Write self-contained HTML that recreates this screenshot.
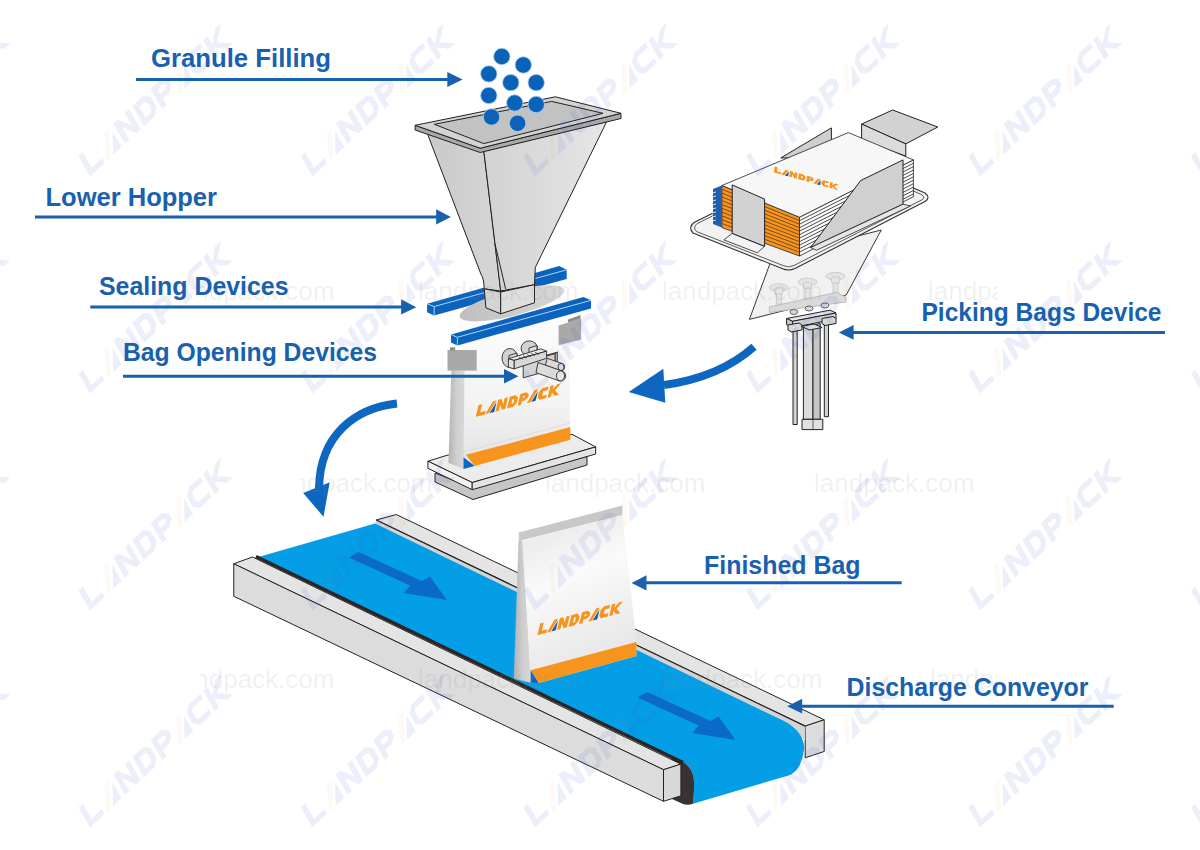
<!DOCTYPE html>
<html><head><meta charset="utf-8">
<style>
html,body{margin:0;padding:0;background:#fff;width:1200px;height:850px;overflow:hidden}
svg{display:block}
.lbl{font-family:"Liberation Sans",sans-serif;font-weight:bold;font-size:25px;fill:#1761b0}
.ln{stroke:#1761b0;stroke-width:3;fill:none}
.ah{fill:#1761b0}
.o{stroke:#222;stroke-width:1;stroke-linejoin:round}
.logo{font-family:"Liberation Sans",sans-serif;font-weight:bold;font-style:italic;fill:#f7941d}
</style></head>
<body>
<svg width="1200" height="850" viewBox="0 0 1200 850">
<defs>
  <g id="lp">
   <g transform="skewX(-28) translate(0,-12)">
    <g fill="#f7941d">
     <polygon points="0,0 4.2,0 4.2,8.3 10.5,8.3 10.5,12 0,12"/>
     <polygon points="11,12 15.2,12 21.2,0 17,0"/>
     <polygon points="23,12 23,0 27,0 30.5,6 30.5,0 34.5,0 34.5,12 30.5,12 27,6 27,12"/>
     <path fill-rule="evenodd" d="M36.5,0 L43.5,0 L47,3.3 L47,8.7 L43.5,12 L36.5,12 Z M40.5,3.6 L42.5,3.6 L43,4.1 L43,7.9 L42.5,8.4 L40.5,8.4 Z"/>
     <path fill-rule="evenodd" d="M49,0 L56,0 L59.5,2.8 L59.5,6 L56,8.4 L53,8.4 L53,12 L49,12 Z M53,3.4 L55,3.4 L55.5,3.9 L55.5,4.6 L55,5.1 L53,5.1 Z"/>
     <polygon points="59.5,12 63.7,12 69.7,0 65.5,0"/>
     <polygon points="74.5,0 82,0 82,3.6 76.5,3.6 76.5,8.4 82,8.4 82,12 74.5,12 71.5,9 71.5,3"/>
     <polygon points="84,0 88,0 88,4.3 92,0 97,0 91,6 97,12 92,12 88,7.7 88,12 84,12"/>
    </g>
    <g fill="#1a5aa8">
     <polygon points="16.2,12 21.5,1.8 21.5,12"/>
     <polygon points="64.7,12 70,1.8 70,12"/>
    </g>
   </g>
  </g>
  <linearGradient id="gHopL" x1="0" y1="0" x2="1" y2="0">
    <stop offset="0" stop-color="#c9c9c9"/><stop offset="1" stop-color="#d6d6d6"/>
  </linearGradient>
  <linearGradient id="gHopR" x1="0" y1="0" x2="1" y2="0">
    <stop offset="0" stop-color="#d2d2d2"/><stop offset="1" stop-color="#e6e6e6"/>
  </linearGradient>
  <linearGradient id="gBag" x1="0" y1="0" x2="0" y2="1">
    <stop offset="0" stop-color="#ffffff"/><stop offset="0.6" stop-color="#f4f4f4"/><stop offset="1" stop-color="#e2e2e2"/>
  </linearGradient>
  <linearGradient id="gBag2" x1="0" y1="0" x2="0.3" y2="1">
    <stop offset="0" stop-color="#e4e4e4"/><stop offset="0.45" stop-color="#fafafa"/><stop offset="1" stop-color="#e6e6e6"/>
  </linearGradient>
  <linearGradient id="gGus" x1="0" y1="0" x2="1" y2="0">
    <stop offset="0" stop-color="#b4b4b4"/><stop offset="0.5" stop-color="#cfcfcf"/><stop offset="1" stop-color="#d8d8d8"/>
  </linearGradient>
  <linearGradient id="gEll" x1="0" y1="0" x2="1" y2="0">
    <stop offset="0" stop-color="#bfbfbf"/><stop offset="1" stop-color="#d8d8d8"/>
  </linearGradient>
  <g id="wm">
   <g transform="skewX(-12) translate(0,-12)">
    <g fill="#3a50c8" fill-opacity="0.095">
     <polygon points="0,0 2.8,0 2.8,9.2 9.5,9.2 9.5,12 0,12"/>
     <polygon points="15.2,12 20.8,2.5 20.8,12"/>
     <polygon points="23,12 23,0 25.8,0 30.5,7.5 30.5,0 33.3,0 33.3,12 30.5,12 25.8,4.5 25.8,12"/>
     <path fill-rule="evenodd" d="M35.5,0 L42.5,0 L45.5,3 L45.5,9 L42.5,12 L35.5,12 Z M38.3,2.8 L41.5,2.8 L42.7,4 L42.7,8 L41.5,9.2 L38.3,9.2 Z"/>
     <path fill-rule="evenodd" d="M47.5,0 L54.5,0 L57.5,2.5 L57.5,5.8 L54.5,8.2 L50.3,8.2 L50.3,12 L47.5,12 Z M50.3,2.8 L53.5,2.8 L54.7,3.6 L54.7,4.6 L53.5,5.4 L50.3,5.4 Z"/>
     <polygon points="62.2,12 67.8,2.5 67.8,12"/>
     <polygon points="72.5,0 80,0 80,2.8 73.5,2.8 72.3,4 72.3,8 73.5,9.2 80,9.2 80,12 72.5,12 69.5,9 69.5,3"/>
     <polygon points="82,0 84.8,0 84.8,5 90,0 93.8,0 87.5,6 93.8,12 90,12 84.8,7 84.8,12 82,12"/>
    </g>
    <g fill="#f08020" fill-opacity="0.05">
     <polygon points="11,12 13.8,12 19.8,0 17,0"/>
     <polygon points="58,12 60.8,12 66.8,0 64,0"/>
    </g>
   </g>
  </g>
  <clipPath id="cpA"><rect x="200" y="0" width="798" height="850"/></clipPath>
  <clipPath id="cpB"><rect x="300" y="0" width="700" height="850"/></clipPath>
</defs>



<!-- ===== CURVED ARROWS ===== -->
<g fill="none" stroke="#0d67c0" stroke-width="8">
  <path d="M754,346.7 C730,368 700,380 664,385"/>
  <path d="M397,403.4 C355,408 320,435 319,488"/>
</g>
<g fill="#0d67c0">
  <polygon points="663.3,368.7 665.3,402.7 628.7,392"/>
  <polygon points="303.2,493 329.7,482.3 323.5,516.8"/>
</g>

<!-- ===== CONVEYOR ===== -->
<g id="conveyor">
  <!-- back rail -->
  <polygon class="o" fill="#e4e4e4" points="376.25,520 396.25,514.5 824.2,719.8 805.2,726.1"/>
  <polygon class="o" fill="#dcdcdc" points="805.2,726.1 824.2,719.8 824.2,751.5 805.2,757.8"/>
  <polygon fill="#d4d4d4" points="376.25,520 805.2,726.1 805.2,740 376.25,534"/>
  <!-- belt -->
  <path fill="#039ee6" d="M259.25,556.75 L375,523.5 L783,720.6 C800,729 806,742 803.6,752 C801,766 797,771 790,775 L693,803.7 C694,795 694.5,783 693.5,776 C691,769 688,765 684,762.5 Z"/>
  <path fill="#3a3232" d="M684,762.5 C688,765 691,769 693.5,776 C694.5,783 694,795 693,803.7 C690,805 686,805 683,804 L672,799 L672,757 Z"/>
  
  <path stroke="#222" stroke-width="1.2" fill="none" d="M376.25,520 L805.2,726.1"/>
  <!-- belt arrows -->
  <polygon fill="#0b6ac8" points="358.5,552 422,581 430,576.5 447,600 404,593 410,585.4 349,557.5"/>
  <polygon fill="#0b6ac8" points="647,692 710.5,721 718.5,716.5 735.5,740 692.5,733 698.5,725.4 637.5,697.5"/>
  <!-- front rail -->
  <polygon class="o" fill="#e4e4e4" points="233.75,563.75 252.5,557 680.9,764.1 663.5,769.7"/>
  <polygon class="o" fill="#e2e2e2" points="233.75,563.75 663.5,769.7 663.5,801.3 233.75,596.25" style="fill:#dcdcdc"/>
  <polygon class="o" fill="#d8d8d8" points="663.5,769.7 680.9,764.1 680.9,795.8 663.5,801.3"/>
  <path stroke="#2a2424" stroke-width="3.4" fill="none" d="M256,556.5 L683,762.6"/>

  <!-- finished bag -->
  <polygon fill="url(#gGus)" stroke="#bbb" stroke-width="0.5" points="518.8,540.9 522.3,540.9 530.6,675 532,683 514.1,678.4"/>
  <polygon fill="url(#gBag2)" points="522.3,540.9 622.3,515 636.4,640.8 636.4,656 538.8,683.1 530.6,683"/>
  <polygon fill="#c8c8c8" points="518.8,532.6 622.3,505.6 622.3,515 518.8,540.9"/>
  <polygon fill="#f7941d" points="530.6,670.2 636.4,642 636.4,656 538.8,683.1"/>
  <polygon fill="#0b68c6" points="530.6,670.2 538.8,683.1 530.6,683.1"/>
  <use href="#lp" transform="translate(537.4,635.2) rotate(-14.9) scale(0.885)"/>
</g>

<!-- ===== HOPPER ===== -->
<g id="hopper">
  <!-- back sealing bar -->
  <polygon fill="#0c63bd" points="427.1,303.8 434.1,306.6 566.7,269.8 559.2,266.1"/>
  <polygon fill="#0c63bd" points="434.1,306.6 566.7,269.8 566.7,278.9 434.1,315.4"/>
  <polygon fill="#0c63bd" points="427.1,303.8 434.1,306.6 434.1,315.4 427.1,312.2"/>
  <polyline fill="none" stroke="#9fd0f5" stroke-width="1" points="427.1,303.8 434.1,306.6 566.7,269.8"/>
  <line stroke="#9fd0f5" stroke-width="1" x1="434.1" y1="306.6" x2="434.1" y2="315.4"/>

  <!-- base -->
  <polygon class="o" fill="#c6c6c6" points="435,473 473,488 587,456.4 587,465 473,499.5 435,482"/>
  <polygon class="o" fill="#ececec" points="427.9,461.2 472.2,482.5 595.7,446.9 572,434.3 448,455"/>
  <polygon class="o" fill="#f2f2f2" points="427.9,461.2 472.2,482.5 472.2,489.7 427.9,468.3"/>
  <polygon class="o" fill="#e4e4e4" points="472.2,482.5 595.7,446.9 595.7,454 472.2,489.7"/>

  <!-- bag body -->
  <polygon fill="url(#gBag)" points="458.8,318 566,291 569.9,322.6 569.9,439.4 463.5,469 463.5,371 458.8,334"/>
  <polygon fill="url(#gGus)" points="451.3,370.6 464.5,370.6 463.5,469 448.5,462.7"/>
  <ellipse cx="512" cy="303.3" rx="54" ry="12.5" transform="rotate(-14.4 512 303.3)" fill="url(#gEll)"/>
  <!-- grippers -->
  <rect x="447.5" y="350" width="29.2" height="20.6" fill="#a8a8a8"/>
  <rect x="450" y="347.4" width="5.2" height="3" fill="#8a8a8a"/>
  <polygon fill="#a9a9a9" points="558.6,325.5 581.2,318.5 581.2,339.6 558.6,345.2"/>
  <polygon fill="#8c8c8c" points="568,319.5 580.5,315 580.5,318.7 568,322.6"/>
  <!-- orange stripe -->
  <line x1="463.5" y1="452" x2="570" y2="423" stroke="#d8d8d8" stroke-width="0.8"/>
  <polygon fill="#f7941d" points="466,454.8 570.4,427.1 570.4,439.8 474.6,466"/>
  <polygon fill="#0b68c6" points="463.5,457.2 474.6,466 463.5,469"/>
  <use href="#lp" transform="translate(475.8,416.8) rotate(-14.9) scale(0.885)"/>

  <!-- hopper body -->
  <path class="o" fill="url(#gHopL)" d="M427,132.6 L483.8,151 L500.7,291 L484.2,288.8 C484,282 483,277 480.9,274 Z"/>
  <path class="o" fill="url(#gHopR)" d="M483.8,151 L606.7,121.6 L535.3,267.4 L534.5,284.7 L500.7,291 Z"/>
  <line class="o" x1="495" y1="244" x2="505.6" y2="288.8"/>
  <!-- spout -->
  <polygon class="o" fill="#d4d4d4" points="484.2,288.8 500.7,292 500.7,313.8 485.9,307.8"/>
  <polygon class="o" fill="#dedede" points="500.7,292 534.5,284.7 534.5,302.8 500.7,313.8"/>
  <!-- rim -->
  <polygon class="o" fill="#a9a9a9" points="415.1,125.3 480.2,148.2 621,113.3 621,118.5 480.2,152.5 415.1,130"/>
  <polygon class="o" fill="#d3d3d3" points="415.1,125.3 555.3,96.8 621,113.3 480.2,148.2"/>
  <polygon class="o" fill="#c2c2c2" points="434.3,124.3 551.7,101.4 603,113.3 483.8,143.6"/>

  <!-- front sealing bar -->
  <polygon fill="#0c63bd" points="451,334.5 457.4,337.3 591,300.3 583.5,297"/>
  <polygon fill="#0c63bd" points="457.4,337.3 591,300.3 591,308.5 457.4,345.4"/>
  <polygon fill="#0c63bd" points="451,334.5 457.4,337.3 457.4,345.4 451,342.6"/>
  <polyline fill="none" stroke="#9fd0f5" stroke-width="1" points="451,334.5 457.4,337.3 591,300.3"/>
  <line stroke="#9fd0f5" stroke-width="1" x1="457.4" y1="337.3" x2="457.4" y2="345.4"/>

  <!-- bag opening device -->
  <g stroke="#2a2a2a" stroke-width="0.9" stroke-linejoin="round">
    <ellipse cx="529.3" cy="348.3" rx="8.2" ry="7.4" fill="#d2d2d2"/>
    <ellipse cx="509.8" cy="358" rx="7.8" ry="9.5" fill="#d2d2d2"/>
    <polygon fill="#dedede" points="529,348 537,345.5 537,352 529,354"/>
    <polygon fill="#dedede" points="509,355.5 517,353 517,361 509,363"/>
    <!-- plate -->
    <polygon fill="#e4e4e4" points="523.2,362.5 525.5,361 557.3,352.2 555,353.7"/>
    <polygon fill="#cdcdcd" points="555,353.7 557.3,352.2 557.3,367.5 555,369"/>
    <polygon fill="#d4d4d4" points="523.2,362.5 555,353.7 555,369 523.2,377.8"/>
    <!-- ridged bar -->
    <polygon fill="#e8e8e8" points="508.4,358.7 540.9,348.8 546.6,351.2 514,360.4"/>
    <polygon fill="#d8d8d8" points="514,360.4 546.6,351.2 546.6,358.3 514,368.9"/>
    <polygon fill="#e2e2e2" points="508.4,358.7 514,360.4 514,368.9 508.4,367.2"/>
    <!-- cylinders -->
    <path fill="#dcdcdc" d="M547.3,358.3 L562,363.5 A3.5,3.6 0 0 1 560,370.5 L545.3,365.3 Z"/>
    <ellipse cx="561" cy="367" rx="3" ry="3.6" fill="#e6e6e6"/>
    <path fill="#dcdcdc" d="M538,362.5 L561.5,370.8 A5,5 0 0 1 559.5,381 L536,372.7 Z"/>
    <ellipse cx="560.5" cy="375.9" rx="4" ry="5" fill="#e6e6e6"/>
  </g>
  <g stroke="#2a2a2a" stroke-width="0.7">
    <line x1="519" y1="357" x2="523" y2="359.2"/><line x1="523" y1="355.8" x2="527" y2="358"/>
    <line x1="527" y1="354.6" x2="531" y2="356.8"/><line x1="531" y1="353.4" x2="535" y2="355.6"/>
    <line x1="535" y1="352.2" x2="539" y2="354.4"/>
  </g>
</g>

<!-- ===== GRANULES ===== -->
<g fill="#0b63b9" stroke="#a9cdf0" stroke-width="0.8">
  <circle cx="501.8" cy="56.5" r="8.2"/>
  <circle cx="523.3" cy="65" r="8.2"/>
  <circle cx="488.8" cy="73.9" r="8.2"/>
  <circle cx="510.8" cy="82.6" r="8.2"/>
  <circle cx="536.2" cy="82.6" r="8.2"/>
  <circle cx="488.8" cy="95.5" r="8.2"/>
  <circle cx="514.7" cy="103" r="8.2"/>
  <circle cx="536.2" cy="104.5" r="8.2"/>
  <circle cx="491.5" cy="117" r="8.2"/>
  <circle cx="517.6" cy="123.3" r="8.2"/>
</g>

<!-- ===== PICKING DEVICE ===== -->
<g id="picker">
  <!-- hanging bag sheet -->
  <polygon fill="#efefef" fill-opacity="0.9" stroke="#222" stroke-width="0.9" points="772,258 881.25,230 846.25,295 749.4,319.4"/>
  <!-- tray -->
  <path fill="#f2f2f2" stroke="#333" stroke-width="1.1" d="M694,222.5 L827,156.5 Q833.3,153.5 839,156.5 L925,193 Q931,197.5 925,201.5 L795,268.5 Q788.5,271.6 782,268.5 L693,233 Q687.8,227.6 694,222.5 Z"/>
  <path fill="none" stroke="#333" stroke-width="0.8" d="M697,223.7 L828,159 Q833.3,156.5 838,159 L921.5,194.5 Q926,197.5 921.5,200 L794,265.5 Q788.5,268.3 783,265.5 L696.5,231.5 Q692.5,227.6 697,223.7 Z"/>
  <!-- back-left guide -->
  <polygon class="o" fill="#cfcfcf" stroke-width="0.9" points="780.8,157.9 831.4,127.9 831.4,140.1 795,158"/>
  <!-- back-right flap -->
  <polygon class="o" fill="#d2d2d2" stroke-width="0.9" points="861.6,124.1 892.6,110 937.8,127 905.8,143.9"/>
  <polygon class="o" fill="#dcdcdc" stroke-width="0.9" points="861.6,124.1 905.8,143.9 905.8,156.1 861.6,140.1"/>
  <!-- stack right side -->
  <polygon fill="#fbfbfb" stroke="#222" stroke-width="0.8" points="799.5,217.2 913.4,159.9 913.4,196.6 799.5,256"/>
  <g stroke="#222" stroke-width="0.8">
    <line x1="799.5" y1="220.7" x2="913.4" y2="163.3"/>
    <line x1="799.5" y1="224.2" x2="913.4" y2="166.7"/>
    <line x1="799.5" y1="227.7" x2="913.4" y2="170.1"/>
    <line x1="799.5" y1="231.2" x2="913.4" y2="173.5"/>
    <line x1="799.5" y1="234.7" x2="913.4" y2="176.9"/>
    <line x1="799.5" y1="238.2" x2="913.4" y2="180.3"/>
    <line x1="799.5" y1="241.7" x2="913.4" y2="183.7"/>
    <line x1="799.5" y1="245.2" x2="913.4" y2="187.1"/>
    <line x1="799.5" y1="248.7" x2="913.4" y2="190.5"/>
    <line x1="799.5" y1="252.2" x2="913.4" y2="193.9"/>
  </g>
  <!-- stack front (orange) -->
  <polygon fill="#f7941d" stroke="#222" stroke-width="0.8" points="721.9,185.5 799.5,217.2 799.5,256 721.9,227.6"/>
  <g stroke="#5a3a20" stroke-width="0.8">
    <line x1="721.9" y1="189.3" x2="799.5" y2="220.7"/>
    <line x1="721.9" y1="193.1" x2="799.5" y2="224.2"/>
    <line x1="721.9" y1="196.9" x2="799.5" y2="227.7"/>
    <line x1="721.9" y1="200.7" x2="799.5" y2="231.2"/>
    <line x1="721.9" y1="204.5" x2="799.5" y2="234.7"/>
    <line x1="721.9" y1="208.3" x2="799.5" y2="238.2"/>
    <line x1="721.9" y1="212.1" x2="799.5" y2="241.7"/>
    <line x1="721.9" y1="215.9" x2="799.5" y2="245.2"/>
    <line x1="721.9" y1="219.7" x2="799.5" y2="248.7"/>
    <line x1="721.9" y1="223.5" x2="799.5" y2="252.2"/>
  </g>
  <polygon fill="#1f5fae" points="713,189 721.9,185.5 721.9,227.6 713,224"/>
  <g stroke="#fff" stroke-width="0.8">
    <line x1="712" y1="193" x2="716" y2="192"/><line x1="712" y1="197" x2="716" y2="196"/><line x1="712" y1="201" x2="716" y2="200"/>
    <line x1="712" y1="205" x2="716" y2="204"/><line x1="712" y1="209" x2="716" y2="208"/><line x1="712" y1="213" x2="716" y2="212"/>
    <line x1="712" y1="217" x2="716" y2="216"/><line x1="712" y1="221" x2="716" y2="220"/>
  </g>
  <!-- stack top -->
  <polygon fill="#f7f7f7" stroke="#222" stroke-width="0.8" points="721.9,185.5 848.4,132.6 913.4,159.9 799.5,217.2"/>
  <use href="#lp" transform="matrix(0.66 0.184 0.29 0.58 774 172.4)"/>
  <!-- left front guide -->
  <polygon fill="#f3f3f3" stroke="#222" stroke-width="0.8" points="723.8,239.9 732.2,233.4 764.6,246.3 757.4,252.8"/>
  <polygon class="o" fill="#d2d2d2" stroke-width="0.8" points="732.2,184.9 764.6,199.1 764.6,246.3 732.2,233.4"/>
  <!-- right guide -->
  <polygon class="o" fill="#d0d0d0" stroke-width="0.8" points="860.6,180.6 903,159.9 903,204.2 810.7,247.5"/>
  <polygon fill="#e6e6e6" stroke="#222" stroke-width="0.8" points="810.7,247.5 903,204.2 910.5,206 816.4,250.3"/>

  <!-- suction cups -->
  <g fill="#e4e4e4" stroke="#c4c4c4" stroke-width="0.8">
    <rect x="776.3" y="289" width="5" height="15"/>
    <rect x="805" y="283.5" width="5" height="15"/>
    <rect x="833.1" y="278" width="5" height="15"/>
    <ellipse cx="778.75" cy="287.5" rx="9.4" ry="3.75"/>
    <ellipse cx="807.5" cy="281.9" rx="9.4" ry="3.75"/>
    <ellipse cx="835.6" cy="276.25" rx="9.4" ry="3.75"/>
    <rect x="774.8" y="288" width="8" height="6" rx="1"/>
    <rect x="803.5" y="282.5" width="8" height="6" rx="1"/>
    <rect x="831.6" y="277" width="8" height="6" rx="1"/>
  </g>
  <polygon fill="#dadada" stroke="#b0b0b0" stroke-width="0.8" points="769.4,306.9 836.25,292.5 846,297 846,302 769.4,312.5"/>
  <!-- nuts -->
  <g fill="#d6d6d6" stroke="#333" stroke-width="0.7">
    <ellipse cx="793.9" cy="312" rx="4" ry="2.5"/>
    <ellipse cx="809" cy="308.5" rx="4" ry="2.5"/>
    <ellipse cx="825" cy="305.5" rx="4" ry="2.5"/>
  </g>
  <!-- block & rods -->
  <rect class="o" stroke-width="0.8" x="793" y="326" width="4.2" height="98.5" fill="#d2d2d2"/>
  <rect class="o" stroke-width="0.8" x="824.3" y="318" width="4.2" height="98.7" fill="#d2d2d2"/>
  <polygon class="o" stroke-width="0.8" fill="#dcdcdc" points="803.4,327 813,325 813,419.3 803.4,419.3"/>
  <polygon class="o" stroke-width="0.8" fill="#c6c6c6" points="813,325 820.2,323.5 820.2,419.3 813,419.3"/>
  <!-- bracket -->
  <polygon class="o" stroke-width="0.8" fill="#e6e6e6" points="786.6,318.5 830,310.2 836,313 792.5,321.3"/>
  <polygon class="o" stroke-width="0.8" fill="#d2d2d2" points="792.5,321.3 836,313 836,319 792.5,327.5"/>
  <polygon class="o" stroke-width="0.8" fill="#c8c8c8" points="786.6,318.5 792.5,321.3 792.5,327.5 786.6,324.7"/>
  <polygon class="o" stroke-width="0.8" fill="#d8d8d8" points="788,325 799,323 802,325 802,330 791,332 788,330"/>
  <polygon class="o" stroke-width="0.8" fill="#d8d8d8" points="822,318.5 833,316.5 836,318.5 836,323.5 825,325.5 822,323.5"/>
  <polygon class="o" stroke-width="0.8" fill="#e0e0e0" points="801.5,326.5 814,324 822,327.5 809.5,330"/>
  <polygon class="o" stroke-width="0.8" fill="#e0e0e0" points="802,419.3 813,419.3 822.8,419.3 822.8,429.6 802,429.6"/>
  <line stroke="#222" stroke-width="0.7" x1="813" y1="419.3" x2="813" y2="429.6"/>
</g>

<!-- ===== WATERMARKS ===== -->
<g id="watermarks">
  <g font-family="Liberation Sans, sans-serif" font-size="26" fill="#888" fill-opacity="0.12">
    <g clip-path="url(#cpA)">
      <text x="174" y="300">landpack.com</text><text x="418" y="300">landpack.com</text><text x="662" y="300">landpack.com</text><text x="928" y="300">landpack.com</text>
      <text x="174" y="688">landpack.com</text><text x="418" y="688">landpack.com</text><text x="662" y="688">landpack.com</text><text x="930" y="688">landpack.com</text>
    </g>
    <g clip-path="url(#cpB)">
      <text x="272" y="492">landpack.com</text><text x="545" y="492">landpack.com</text><text x="814" y="492">landpack.com</text>
    </g>
  </g>
  <use href="#wm" transform="translate(-132.5,176.4) rotate(-43) scale(2.08,1.88)"/>
  <use href="#wm" transform="translate(90.0,176.4) rotate(-43) scale(2.08,1.88)"/>
  <use href="#wm" transform="translate(312.5,176.4) rotate(-43) scale(2.08,1.88)"/>
  <use href="#wm" transform="translate(535.0,176.4) rotate(-43) scale(2.08,1.88)"/>
  <use href="#wm" transform="translate(757.5,176.4) rotate(-43) scale(2.08,1.88)"/>
  <use href="#wm" transform="translate(980.0,176.4) rotate(-43) scale(2.08,1.88)"/>
  <use href="#wm" transform="translate(1202.5,176.4) rotate(-43) scale(2.08,1.88)"/>
  <use href="#wm" transform="translate(-132.5,393.5) rotate(-43) scale(2.08,1.88)"/>
  <use href="#wm" transform="translate(90.0,393.5) rotate(-43) scale(2.08,1.88)"/>
  <use href="#wm" transform="translate(312.5,393.5) rotate(-43) scale(2.08,1.88)"/>
  <use href="#wm" transform="translate(535.0,393.5) rotate(-43) scale(2.08,1.88)"/>
  <use href="#wm" transform="translate(757.5,393.5) rotate(-43) scale(2.08,1.88)"/>
  <use href="#wm" transform="translate(980.0,393.5) rotate(-43) scale(2.08,1.88)"/>
  <use href="#wm" transform="translate(1202.5,393.5) rotate(-43) scale(2.08,1.88)"/>
  <use href="#wm" transform="translate(-132.5,610.5) rotate(-43) scale(2.08,1.88)"/>
  <use href="#wm" transform="translate(90.0,610.5) rotate(-43) scale(2.08,1.88)"/>
  <use href="#wm" transform="translate(312.5,610.5) rotate(-43) scale(2.08,1.88)"/>
  <use href="#wm" transform="translate(535.0,610.5) rotate(-43) scale(2.08,1.88)"/>
  <use href="#wm" transform="translate(757.5,610.5) rotate(-43) scale(2.08,1.88)"/>
  <use href="#wm" transform="translate(980.0,610.5) rotate(-43) scale(2.08,1.88)"/>
  <use href="#wm" transform="translate(1202.5,610.5) rotate(-43) scale(2.08,1.88)"/>
  <use href="#wm" transform="translate(-132.5,827.5) rotate(-43) scale(2.08,1.88)"/>
  <use href="#wm" transform="translate(90.0,827.5) rotate(-43) scale(2.08,1.88)"/>
  <use href="#wm" transform="translate(312.5,827.5) rotate(-43) scale(2.08,1.88)"/>
  <use href="#wm" transform="translate(535.0,827.5) rotate(-43) scale(2.08,1.88)"/>
  <use href="#wm" transform="translate(757.5,827.5) rotate(-43) scale(2.08,1.88)"/>
  <use href="#wm" transform="translate(980.0,827.5) rotate(-43) scale(2.08,1.88)"/>
  <use href="#wm" transform="translate(1202.5,827.5) rotate(-43) scale(2.08,1.88)"/>
</g>
<!-- ===== LABELS ===== -->
<g id="labels">
  <text class="lbl" x="151.0" y="67" textLength="180.0" lengthAdjust="spacingAndGlyphs">Granule Filling</text>
  <line class="ln" x1="136" y1="79.4" x2="449" y2="79.4"/>
  <polygon class="ah" points="447.3,72.1 462.6,79.5 447.3,86.9"/>

  <text class="lbl" x="45.5" y="206" textLength="171.5" lengthAdjust="spacingAndGlyphs">Lower Hopper</text>
  <line class="ln" x1="35" y1="216.9" x2="438" y2="216.9"/>
  <polygon class="ah" points="436.1,209.2 450.9,217 436.1,224.6"/>

  <text class="lbl" x="99.0" y="295" textLength="189.5" lengthAdjust="spacingAndGlyphs">Sealing Devices</text>
  <line class="ln" x1="90.3" y1="307" x2="403" y2="307"/>
  <polygon class="ah" points="401.1,299.2 416.3,307.2 401.1,314.6"/>

  <text class="lbl" x="123.0" y="361" textLength="254.0" lengthAdjust="spacingAndGlyphs">Bag Opening Devices</text>
  <line class="ln" x1="123" y1="376.3" x2="506" y2="376.3"/>
  <polygon class="ah" points="504,369.1 518.5,376.2 504,383.6"/>

  <text class="lbl" x="921.5" y="321" textLength="240.0" lengthAdjust="spacingAndGlyphs">Picking Bags Device</text>
  <line class="ln" x1="851" y1="332.5" x2="1165" y2="332.5"/>
  <polygon class="ah" points="853.6,325.1 838.8,332.4 853.6,339.8"/>

  <text class="lbl" x="704.0" y="574" textLength="156.5" lengthAdjust="spacingAndGlyphs">Finished Bag</text>
  <line class="ln" x1="644" y1="582.7" x2="901.7" y2="582.7"/>
  <polygon class="ah" points="646.5,575.3 631.6,582.9 646.5,590.5"/>

  <text class="lbl" x="846.5" y="696" textLength="242.0" lengthAdjust="spacingAndGlyphs">Discharge Conveyor</text>
  <line class="ln" x1="800" y1="706.3" x2="1113.7" y2="706.3"/>
  <polygon class="ah" points="802.2,698.8 787.2,706.2 802.2,713.6"/>
</g>
</svg>
</body></html>
